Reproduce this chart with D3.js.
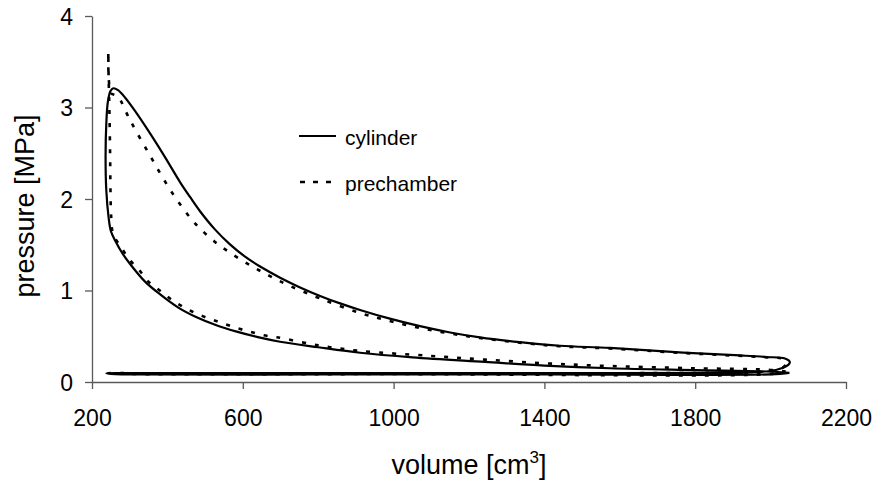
<!DOCTYPE html>
<html>
<head>
<meta charset="utf-8">
<script src="https://cdn.jsdelivr.net/npm/d3@7"></script>
<style>
  body { margin: 0; background: #fff; }
  svg { display: block; font-family: "Liberation Sans", Arial, sans-serif; }
  .axis path, .axis line { stroke: #595959; stroke-width: 1.3; }
  .axis text { fill: #000; font-size: 23px; font-family: "Liberation Sans", Arial, sans-serif; }
</style>
</head>
<body>
<svg id="chart" width="876" height="483"></svg>
<script>
// volume [cm3], pressure [MPa], in cycle order
var cylCompression = [[2050,0.10],[1990,0.115],[1800,0.13],[1574,0.15],[1400,0.18],[1242,0.22],[1050,0.27],[911,0.32],[800,0.38],[699,0.44],[640,0.49],[584,0.55],[530,0.62],[476,0.71],[430,0.81],[380,0.96],[340,1.10],[301,1.29],[280,1.41],[262,1.54],[250,1.65]]
var cylCombustion = [[244,1.80],[238,2.09],[236,2.46],[238,2.83],[242,3.06],[249,3.18],[256.5,3.21]]
var cylExpansion = [[269,3.189],[287.5,3.11],[314,2.963],[354,2.717],[394,2.455],[433,2.188],[460,2.022],[486,1.869],[526,1.668],[566,1.504],[606,1.37],[646,1.262],[699,1.14],[752,1.034],[805,0.941],[858,0.859],[911,0.787],[990,0.692],[1070,0.61],[1150,0.541],[1229,0.487],[1335,0.435],[1441,0.396],[1574,0.372],[1768,0.322],[1919,0.29],[1990,0.273],[2038,0.257],[2051,0.219],[2043,0.175],[2029,0.15],[2006,0.123],[1959,0.109],[1866,0.10]]
var cylGasExchange = [[1400,0.098],[1000,0.097],[600,0.096],[300,0.096],[238,0.096],[262,0.086],[320,0.082],[800,0.082],[1400,0.082],[2000,0.084],[2050,0.10]]

var preCompression = [[2040,0.115],[1990,0.135],[1800,0.15],[1548,0.178],[1400,0.205],[1242,0.245],[1100,0.285],[911,0.34],[800,0.40],[690,0.49],[655,0.51],[619,0.55],[584,0.59],[548,0.64],[513,0.69],[476,0.75],[442,0.82],[411,0.90],[380,1.0],[349,1.10],[326,1.22],[301,1.33],[279,1.46],[256,1.62]]
var preCombustion = [[251,1.80],[249,2.1],[248,2.5],[246,3.0],[244,3.35],[243.2,3.61],[244.6,3.30],[250.4,3.156],[261,3.137]]
var preExpansion = [[269.8,3.115],[300.8,2.863],[353.8,2.475],[406.9,2.104],[460,1.798],[486.5,1.678],[526.3,1.531],[566,1.413],[619,1.278],[672,1.157],[725,1.05],[805,0.913],[911,0.754],[990,0.667],[1070,0.59],[1150,0.53],[1229,0.481],[1335,0.43],[1441,0.39],[1574,0.366],[1768,0.317],[1990,0.268],[2033,0.251],[2041,0.197],[2025,0.142],[1985,0.115],[1919,0.104]]
var preGasExchange = [[1000,0.095],[400,0.095],[245,0.096],[300,0.088],[1000,0.087],[2000,0.088],[2040,0.115]]

var xTicks = [200, 600, 1000, 1400, 1800, 2200]
var yTicks = [0, 1, 2, 3, 4]
var seriesNames = ['cylinder', 'prechamber']

var svg = d3.select('#chart')

var x = d3.scaleLinear().domain([200, 2200]).range([92, 846])
var y = d3.scaleLinear().domain([0, 4]).range([382, 16])

// axes
svg.append('g')
  .attr('class', 'axis x-axis')
  .attr('transform', 'translate(0,' + y(0) + ')')
  .call(d3.axisBottom(x).tickValues(xTicks).tickFormat(d3.format('d'))
    .tickSize(7).tickSizeOuter(0).tickPadding(36.5))

svg.append('g')
  .attr('class', 'axis y-axis')
  .attr('transform', 'translate(' + x(200) + ',0)')
  .call(d3.axisLeft(y).tickValues(yTicks).tickFormat(d3.format('d'))
    .tickSize(7).tickSizeOuter(0).tickPadding(12))

svg.selectAll('.x-axis .tick text').attr('dy', null)
svg.selectAll('.y-axis .tick text').attr('dy', '0.36em')

// axis titles
svg.append('text')
  .attr('x', 469)
  .attr('y', 474)
  .attr('text-anchor', 'middle')
  .style('font-size', '27px')
  .call(function(t) {
    t.append('tspan').text('volume [cm')
    t.append('tspan').attr('dy', -11).style('font-size', '17px').text('3')
    t.append('tspan').attr('dy', 11).text(']')
  })

svg.append('text')
  .attr('transform', 'translate(34,206) rotate(-90)')
  .attr('text-anchor', 'middle')
  .style('font-size', '27px')
  .text('pressure [MPa]')

// curves
var line = d3.line()
  .x(function(d) { return x(d[0]) })
  .y(function(d) { return y(d[1]) })
  .curve(d3.curveCatmullRom.alpha(0.5))

var cylinder = [].concat(cylCompression, cylCombustion, cylExpansion, cylGasExchange)
var prechamber = [].concat(preCompression, preCombustion, preExpansion, preGasExchange)

svg.append('path')
  .datum(prechamber)
  .attr('d', line)
  .attr('fill', 'none')
  .attr('stroke', '#000')
  .attr('stroke-width', 2.6)
  .attr('stroke-dasharray', '4,9')

svg.append('path')
  .datum(cylinder)
  .attr('d', line)
  .attr('fill', 'none')
  .attr('stroke', '#000')
  .attr('stroke-width', 2.2)

// legend
var legend = svg.append('g').attr('class', 'legend')
legend.append('line')
  .attr('x1', 299).attr('x2', 336).attr('y1', 136).attr('y2', 136)
  .attr('stroke', '#000').attr('stroke-width', 2.2)
legend.append('line')
  .attr('x1', 300).attr('x2', 332).attr('y1', 182).attr('y2', 182)
  .attr('stroke', '#000').attr('stroke-width', 2.6)
  .attr('stroke-dasharray', '5,8')
legend.selectAll('.label')
  .data(seriesNames)
  .enter().append('text')
  .attr('class', 'label')
  .attr('x', 345)
  .attr('y', function(d, i) { return 145 + i * 46 })
  .style('font-size', '21px')
  .text(function(d) { return d })
</script>
</body>
</html>
